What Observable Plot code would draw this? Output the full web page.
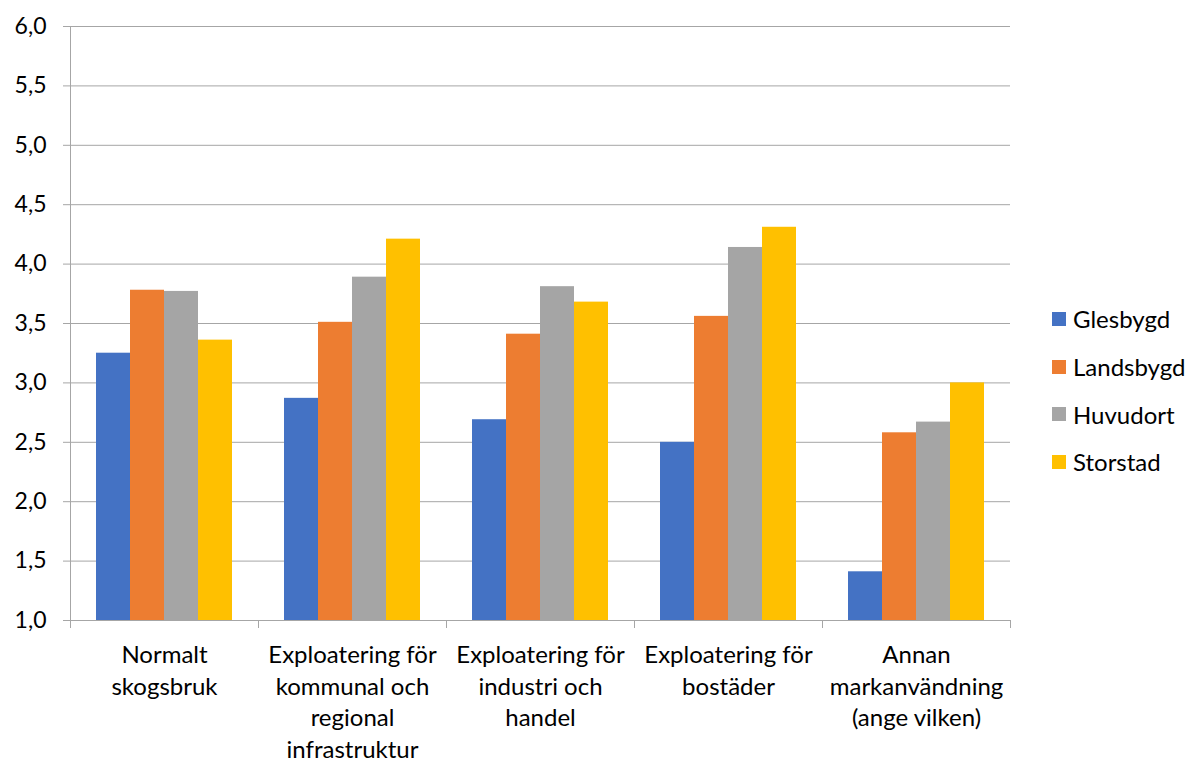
<!DOCTYPE html>
<html>
<head>
<meta charset="utf-8">
<script src="https://cdn.jsdelivr.net/npm/d3@7"></script>
<script src="https://cdn.jsdelivr.net/npm/@observablehq/plot@0.6"></script>
<style>
  html, body { margin: 0; padding: 0; background: #fff; }
  #wrap { position: relative; width: 1189px; height: 760px; font-family: Lato, sans-serif; }
  #legend { position: absolute; left: 1052px; top: 295px; }
  .lrow { display: flex; align-items: center; height: 47.7px; font-size: 24px; color: #000; }
  .lsw { width: 14px; height: 14px; margin-right: 7px; flex: none; }
</style>
</head>
<body>
<div id="wrap"></div>
<script>
const categories = [
  "Normalt skogsbruk",
  "Exploatering för kommunal och regional infrastruktur",
  "Exploatering för industri och handel",
  "Exploatering för bostäder",
  "Annan markanvändning (ange vilken)"
];
const categoryLabels = [
  "Normalt\nskogsbruk",
  "Exploatering för\nkommunal och\nregional\ninfrastruktur",
  "Exploatering för\nindustri och\nhandel",
  "Exploatering för\nbostäder",
  "Annan\nmarkanvändning\n(ange vilken)"
];
const series = ["Glesbygd", "Landsbygd", "Huvudort", "Storstad"];
const colors = ["#4472c4", "#ed7d31", "#a5a5a5", "#ffc000"];
const glesbygd  = [3.25, 2.87, 2.69, 2.50, 1.41];
const landsbygd = [3.78, 3.51, 3.41, 3.56, 2.58];
const huvudort  = [3.77, 3.89, 3.81, 4.14, 2.67];
const storstad  = [3.36, 4.21, 3.68, 4.31, 3.00];
const yTicks = [1.0, 1.5, 2.0, 2.5, 3.0, 3.5, 4.0, 4.5, 5.0, 5.5, 6.0];

const seriesValues = [glesbygd, landsbygd, huvudort, storstad];
const rows = [];
categories.forEach((c, i) => {
  series.forEach((s, j) => rows.push({category: c, series: s, value: seriesValues[j][i]}));
});
const labelOf = new Map(categories.map((c, i) => [c, categoryLabels[i]]));
const fmt = d => d.toFixed(1).replace(".", ",");
const gridColor = "#a6a6a6";

const chart = Plot.plot({
  width: 1189,
  height: 760,
  marginLeft: 70,
  marginRight: 179,
  marginTop: 26,
  marginBottom: 140,
  style: {fontFamily: "Lato, sans-serif", fontSize: "23px", color: "#000", background: "#fff"},
  fx: {domain: categories, padding: 0, label: null},
  x: {domain: series, paddingInner: 0, paddingOuter: 0.72, axis: null},
  y: {domain: [1, 6], label: null},
  color: {domain: series, range: colors},
  marks: [
    Plot.gridY(yTicks, {stroke: gridColor, strokeOpacity: 1}),
    Plot.frame({anchor: "left", stroke: gridColor, fx: () => categories[0]}),
    Plot.frame({anchor: "left", stroke: gridColor, insetTop: 594, insetBottom: -7}),
    Plot.frame({anchor: "right", stroke: gridColor, insetTop: 594, insetBottom: -7}),
    Plot.barY(rows, {fx: "category", x: "series", y1: 1, y2: "value", fill: "series"}),
    Plot.axisY(yTicks, {tickSize: 7, tickPadding: 17, tickFormat: fmt, stroke: gridColor, fontSize: 23, label: null}),
    Plot.axisFx({anchor: "bottom", tickSize: 0, tickPadding: 20, tickFormat: d => labelOf.get(d), fontSize: 24, lineHeight: 1.32, label: null})
  ]
});

const wrap = document.getElementById("wrap");
wrap.appendChild(chart);
const legend = d3.select(wrap).append("div").attr("id", "legend");
series.forEach((s, i) => {
  const row = legend.append("div").attr("class", "lrow");
  row.append("span").attr("class", "lsw").style("background", colors[i]);
  row.append("span").text(s);
});
</script>
</body>
</html>
